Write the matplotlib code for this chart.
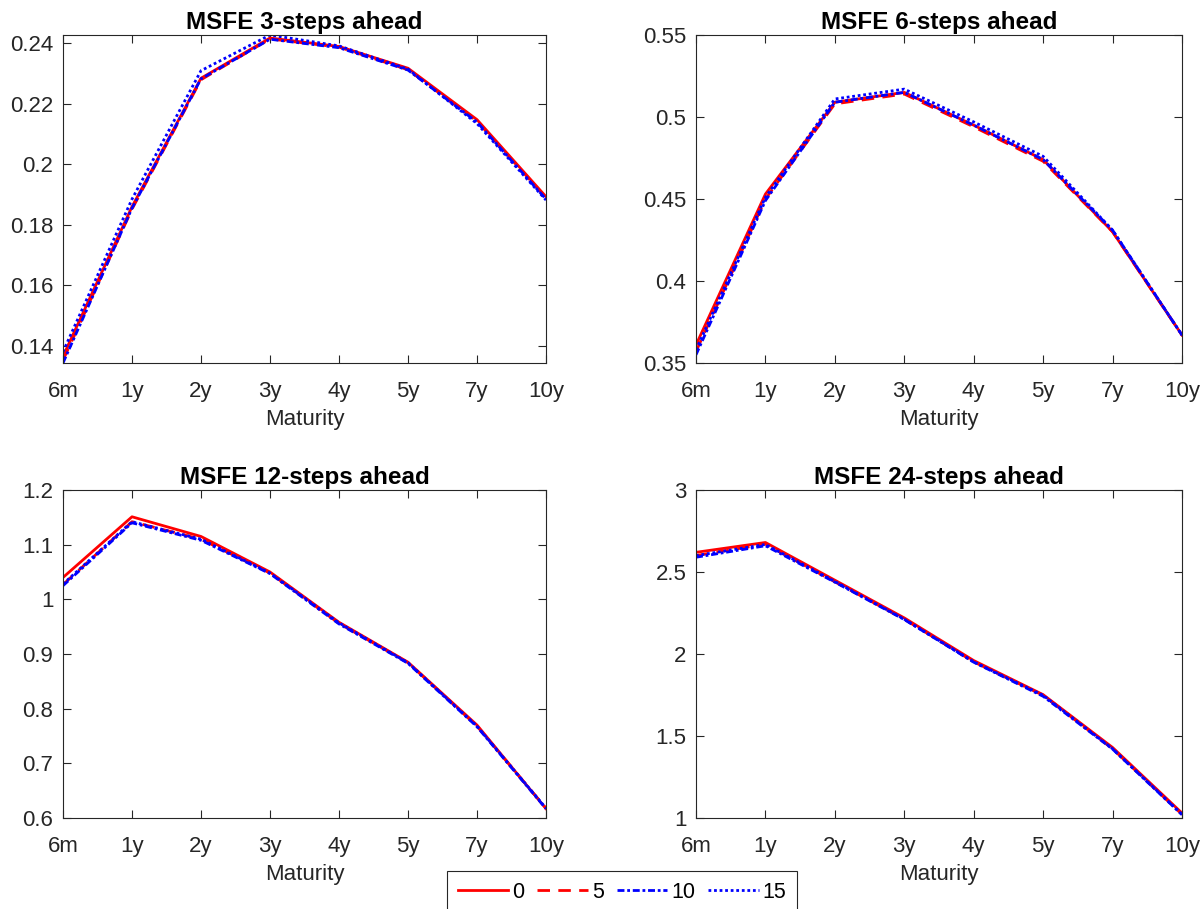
import matplotlib.pyplot as plt
from matplotlib.lines import Line2D

plt.rcParams['font.family'] = ['Liberation Sans', 'DejaVu Sans']

maturities = ['6m', '1y', '2y', '3y', '4y', '5y', '7y', '10y']
lags = ['0', '5', '10', '15']

# MSFE per horizon, one list per setting (0, 5, 10, 15)
msfe_3 = [
    [0.1365, 0.1860, 0.2285, 0.2418, 0.2390, 0.2318, 0.2148, 0.1893],
    [0.1352, 0.1852, 0.2280, 0.2415, 0.2388, 0.2313, 0.2143, 0.1890],
    [0.1343, 0.1855, 0.2283, 0.2414, 0.2386, 0.2312, 0.2140, 0.1885],
    [0.1380, 0.1885, 0.2310, 0.2428, 0.2392, 0.2315, 0.2135, 0.1882],
]
msfe_6 = [
    [0.361, 0.453, 0.509, 0.515, 0.495, 0.474, 0.430, 0.367],
    [0.357, 0.450, 0.508, 0.514, 0.494, 0.473, 0.430, 0.367],
    [0.355, 0.449, 0.509, 0.515, 0.495, 0.474, 0.431, 0.367],
    [0.358, 0.451, 0.511, 0.517, 0.497, 0.476, 0.431, 0.367],
]
msfe_12 = [
    [1.040, 1.151, 1.115, 1.050, 0.958, 0.885, 0.770, 0.617],
    [1.027, 1.142, 1.110, 1.048, 0.956, 0.884, 0.768, 0.618],
    [1.025, 1.140, 1.108, 1.047, 0.955, 0.883, 0.767, 0.617],
    [1.028, 1.142, 1.110, 1.048, 0.957, 0.884, 0.768, 0.618],
]
msfe_24 = [
    [2.620, 2.680, 2.450, 2.220, 1.960, 1.752, 1.430, 1.030],
    [2.600, 2.670, 2.440, 2.212, 1.952, 1.748, 1.422, 1.022],
    [2.590, 2.660, 2.438, 2.210, 1.950, 1.742, 1.420, 1.020],
    [2.600, 2.668, 2.442, 2.212, 1.952, 1.748, 1.422, 1.022],
]

panels = [
    ('MSFE 3-steps ahead', msfe_3, (0.1343, 0.2428), [0.14, 0.16, 0.18, 0.2, 0.22, 0.24]),
    ('MSFE 6-steps ahead', msfe_6, (0.35, 0.55), [0.35, 0.4, 0.45, 0.5, 0.55]),
    ('MSFE 12-steps ahead', msfe_12, (0.6, 1.2), [0.6, 0.7, 0.8, 0.9, 1, 1.1, 1.2]),
    ('MSFE 24-steps ahead', msfe_24, (1, 3), [1, 1.5, 2, 2.5, 3]),
]

styles = [
    dict(color='#ff0000', linestyle='-'),
    dict(color='#ff0000', dashes=(4.5, 3)),
    dict(color='#0000ff', dashes=(2.5, 1, 1, 1)),
    dict(color='#0000ff', dashes=(1, 1)),
]

W, H = 1202, 909
fig = plt.figure(figsize=(W / 100, H / 100), dpi=100)

boxes = [(63, 35, 546, 363), (696, 35, 1182, 363),
         (63, 490, 546, 818), (696, 490, 1182, 818)]

x = list(range(len(maturities)))
for (title, data, ylim, yticks), (x0, y0, x1, y1) in zip(panels, boxes):
    ax = fig.add_axes([x0 / W, 1 - y1 / H, (x1 - x0) / W, (y1 - y0) / H])
    for vals, st in zip(data, styles):
        ax.plot(x, vals, linewidth=2, **st)
    ax.set_xlim(0, len(maturities) - 1)
    ax.set_ylim(*ylim)
    ax.set_xticks(x)
    ax.set_xticklabels(maturities)
    ax.set_yticks(yticks)
    ax.set_yticklabels([f'{t:g}' for t in yticks])
    ax.set_title(title, fontsize=17.5, fontweight='bold', pad=4)
    ax.set_xlabel('Maturity', fontsize=16, color='#262626', labelpad=5)
    ax.tick_params(direction='in', length=6, width=0.8, top=True, right=True,
                   labelsize=16, colors='#262626')
    ax.tick_params(axis='x', pad=13)
    ax.tick_params(axis='y', pad=7)
    for sp in ax.spines.values():
        sp.set_color('#262626')
        sp.set_linewidth(0.8)

handles = [Line2D([], [], linewidth=2, **st) for st in styles]
leg = fig.legend(handles, lags, loc='upper left',
                 bbox_to_anchor=(447 / W, 1 - 871 / H), ncol=4,
                 fontsize=15.5, handlelength=2.35, handletextpad=0.18,
                 columnspacing=0.6, borderpad=0.5, borderaxespad=0,
                 fancybox=False, framealpha=1)
leg.get_frame().set_edgecolor('#262626')
leg.get_frame().set_linewidth(0.8)

fig.savefig('out.png', dpi=100)
